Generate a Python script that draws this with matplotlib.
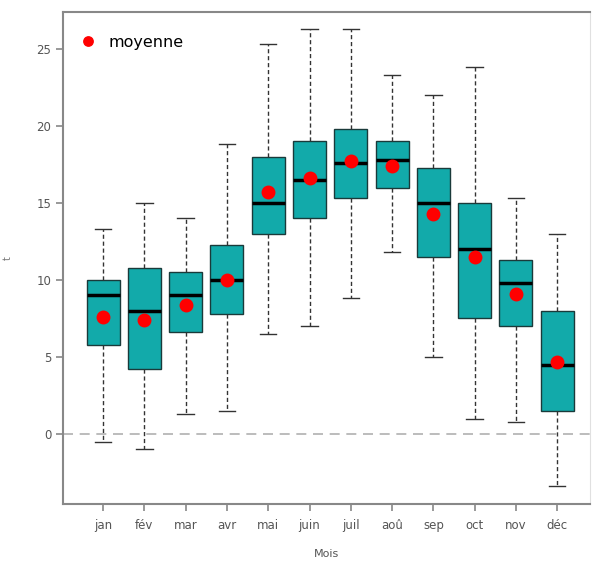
import matplotlib
matplotlib.use('Agg')
import matplotlib.pyplot as plt
import numpy as np

# monthly values
mois = ['jan', 'fév', 'mar', 'avr', 'mai', 'juin', 'juil', 'aoû', 'sep', 'oct', 'nov', 'déc']
whis_lo = [-0.5, -1.0, 1.3, 1.5, 6.5, 7.0, 8.8, 11.8, 5.0, 1.0, 0.8, -3.4]
q1 = [5.8, 4.2, 6.6, 7.8, 13.0, 14.0, 15.3, 16.0, 11.5, 7.5, 7.0, 1.5]
mediane = [9.0, 8.0, 9.0, 10.0, 15.0, 16.5, 17.6, 17.8, 15.0, 12.0, 9.8, 4.5]
q3 = [10.0, 10.8, 10.5, 12.3, 18.0, 19.0, 19.8, 19.0, 17.3, 15.0, 11.3, 8.0]
whis_hi = [13.3, 15.0, 14.0, 18.8, 25.3, 26.3, 26.3, 23.3, 22.0, 23.8, 15.3, 13.0]
moyenne = [7.6, 7.4, 8.4, 10.0, 15.7, 16.6, 17.7, 17.4, 14.3, 11.5, 9.1, 4.7]

stats = []
for i in range(len(mois)):
    stats.append({'whislo': whis_lo[i], 'q1': q1[i], 'med': mediane[i],
                  'q3': q3[i], 'whishi': whis_hi[i], 'label': mois[i]})

fig = plt.figure(figsize=(5.95, 5.61), dpi=100)
ax = fig.add_axes([0.106, 0.1016, 0.886, 0.877])

pos = np.arange(1, len(mois) + 1)
ax.axhline(0, color='#b0b0b0', linestyle=(0, (6, 4)), linewidth=1.2, zorder=0)

ax.bxp(stats, positions=pos, widths=0.8, showfliers=False, patch_artist=True,
       boxprops=dict(facecolor='#12aaaa', edgecolor='#1a3a3a', linewidth=1.0),
       medianprops=dict(color='black', linewidth=2.5),
       whiskerprops=dict(color='#333333', linestyle=(0, (3, 2)), linewidth=1.0),
       capprops=dict(color='#333333', linewidth=1.0), capwidths=0.4)

ax.plot(pos, moyenne, 'o', color='red', markersize=9, linestyle='none',
        label='moyenne', zorder=5)

ax.set_xlim(0.03, 12.8)
ax.set_ylim(-4.55, 27.4)
ax.set_yticks([0, 5, 10, 15, 20, 25])
ax.set_xticks(pos)
ax.set_xticklabels(mois)

for s in ['left', 'bottom', 'top']:
    ax.spines[s].set_color('#888888')
    ax.spines[s].set_linewidth(1.5)
ax.spines['right'].set_color('#e0e0e0')
ax.spines['right'].set_linewidth(0.8)

ax.tick_params(colors='#888888', labelcolor='#555555', labelsize=8.5, length=5, width=1.2)
ax.tick_params(axis='x', pad=6)

ax.set_xlabel('Mois', fontsize=8, color='#555555', labelpad=12)
ax.set_ylabel('t', fontsize=7, color='#777777')
ax.yaxis.set_label_coords(-0.095, 0.5)

ax.legend(loc='upper left', bbox_to_anchor=(0.017, 0.967), frameon=False,
          fontsize=11.5, handlelength=1.2, handletextpad=0.7,
          borderaxespad=0.0, markerscale=0.75)

fig.savefig('out.png', dpi=100)
